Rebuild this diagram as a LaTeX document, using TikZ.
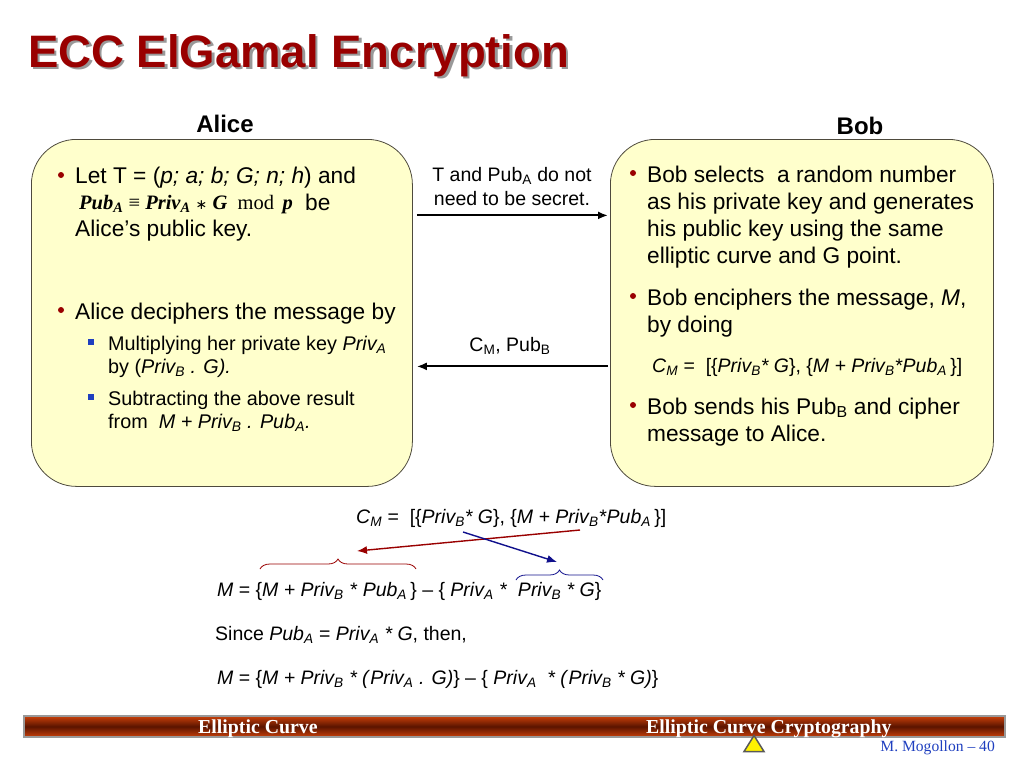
\documentclass[tikz,border=0pt]{standalone}
\usepackage{fontspec}
\setmainfont{Liberation Sans}
\newfontfamily\timesfont{Liberation Serif}
\newfontfamily\symbfont{DejaVu Sans}
\usetikzlibrary{arrows.meta,shapes.geometric,decorations.pathreplacing}
\definecolor{titlered}{HTML}{990000}
\definecolor{boxyellow}{HTML}{FFFFCC}
\definecolor{barorange}{HTML}{C8400A}
\definecolor{bardark}{HTML}{5A1400}
\definecolor{subblue}{HTML}{1F3FBF}
\definecolor{arrowblue}{HTML}{10108C}
\newcommand{\low}[1]{\textsubscript{#1}}
\newcommand{\pr}[1]{\textit{Priv\low{#1}}}
\newcommand{\pu}[1]{\textit{Pub\low{#1}}}

\begin{document}
\begin{tikzpicture}[x=1pt,y=-1pt,>={Latex[length=10pt,width=8pt]}]
  \tikzstyle{bigline}=[anchor=base west,inner sep=0pt,font=\fontsize{22.7}{26}\selectfont]
  \tikzstyle{smallline}=[anchor=base west,inner sep=0pt,font=\fontsize{19.8}{22}\selectfont]
  \tikzstyle{eqline}=[anchor=base west,inner sep=0pt,font=\fontsize{19.5}{22}\selectfont]
  \tikzstyle{partybox}=[draw=black!80!yellow,fill=boxyellow,rounded corners=45pt,anchor=north west,line width=0.8pt,inner sep=0pt]
  \tikzstyle{redbullet}=[circle,fill=titlered,inner sep=0pt,minimum size=6pt]
  \tikzstyle{bluebullet}=[rectangle,fill=subblue,inner sep=0pt,minimum size=6pt]
  \tikzstyle{footertext}=[inner sep=0pt,anchor=base west,text=white,font=\timesfont\bfseries\fontsize{19.8}{22}\selectfont]
  \tikzstyle{linkarrow}=[->,line width=2pt]
  \useasboundingbox (0,0) rectangle (1024,768);

  % title and headings
  \node[inner sep=0pt,anchor=base west,text=black!40,font=\bfseries\fontsize{45.5}{50}\selectfont] (titleshadow) at (30.5,69.5) {ECC ElGamal Encryption};
  \node[inner sep=0pt,anchor=base west,text=titlered,font=\bfseries\fontsize{45.5}{50}\selectfont] (title) at (28,67) {ECC ElGamal Encryption};
  \node[font=\bfseries\fontsize{24}{28}\selectfont] (alicehead) at (225,124) {Alice};
  \node[font=\bfseries\fontsize{24}{28}\selectfont] (bobhead) at (860,126) {Bob};

  \node[partybox,minimum width=381pt,minimum height=347pt] (alice) at (31,139) {};
  \node[partybox,minimum width=383pt,minimum height=347pt] (bob) at (610,139) {};

  % Alice
  \node[redbullet] (a1) at (61,175) {};
  \node[bigline] (a2) at (75,183) {Let T = (\textit{p; a; b; G; n; h}) and};
  \node[anchor=base west,inner sep=0pt,font=\timesfont\fontsize{20.5}{24}\selectfont] (a3) at (79,209)
    {\textbf{\textit{Pub\low{A}}} ≡ \textbf{\textit{Priv\low{A}}} {\symbfont\fontsize{14}{15}\selectfont ∗} \textbf{\textit{G}}\ \ mod\, \textbf{\textit{p}}};
  \node[bigline] (a4) at (305,210) {be};
  \node[bigline] (a5) at (75,236) {Alice’s public key.};
  \node[redbullet] (a6) at (61,310) {};
  \node[bigline] (a7) at (75,319) {Alice deciphers the message by};
  \node[bluebullet] (a8) at (91,342) {};
  \node[smallline] (a9) at (108,350) {Multiplying her private key \pr{A}};
  \node[smallline] (a10) at (108,373) {by (\pr{B} \textit{. G).}};
  \node[bluebullet] (a11) at (91,397) {};
  \node[smallline] (a12) at (108,405) {Subtracting the above result};
  \node[smallline] (a13) at (108,428) {from\ \ \textit{M + }\pr{B} \textit{. }\pu{A}\textit{.}};

  % Bob
  \node[redbullet] (b1) at (633,173) {};
  \node[bigline] (b2) at (647,182) {Bob selects\ \ a random number};
  \node[bigline] (b3) at (647,209) {as his private key and generates};
  \node[bigline] (b4) at (647,236) {his public key using the same};
  \node[bigline] (b5) at (647,263) {elliptic curve and G point.};
  \node[redbullet] (b6) at (633,296) {};
  \node[bigline] (b7) at (647,305) {Bob enciphers the message, \textit{M},};
  \node[bigline] (b8) at (647,332) {by doing};
  \node[eqline] (b9) at (652,372) {\textit{C\low{M}} =\ \ [\{\pr{B}\textit{* G}\}, \{\textit{M + }\pr{B}\textit{*}\pu{A}\,\}]};
  \node[redbullet] (b10) at (633,405) {};
  \node[bigline] (b11) at (647,414) {Bob sends his Pub\low{B} and cipher};
  \node[bigline] (b12) at (647,441) {message to Alice.};

  % between the boxes
  \node[eqline,anchor=base] (m1) at (512,181) {T and Pub\low{A} do not};
  \node[eqline,anchor=base] (m2) at (512,205) {need to be secret.};
  \node[eqline,anchor=base] (m3) at (510,351) {C\low{M}, Pub\low{B}};
  \draw[linkarrow,shorten <=4pt,shorten >=2pt] ([yshift=97.5pt]alice.east) -- ([yshift=97.5pt]bob.west);
  \draw[linkarrow,shorten <=2pt,shorten >=4pt] ([yshift=-53.5pt]bob.west) -- ([yshift=-53.5pt]alice.east);

  % equations
  \node[eqline] (e1) at (356,523) {\textit{C\low{M}} =\ \ [\{\pr{B}\textit{* G}\}, \{\textit{M + }\pr{B}\textit{*}\pu{A}\,\}]};
  \node[eqline] (e2) at (217,596) {\textit{M} = \{\textit{M + }\pr{B} \textit{* }\pu{A}\,\} – \{ \pr{A} \textit{*}\ \ \pr{B} \textit{* G}\}};
  \node[eqline] (e3) at (215,640) {Since \pu{A} = \pr{A} \textit{* G}, then,};
  \node[eqline] (e4) at (217,684) {\textit{M} = \{\textit{M + }\pr{B} \textit{* (}\pr{A} \textit{. G)}\} – \{ \pr{A}\ \ \textit{* (}\pr{B} \textit{* G)}\}};

  \coordinate (redstart) at (580,530);
  \coordinate (redend) at (357,551);
  \coordinate (bluestart) at (463,532);
  \coordinate (blueend) at (557,562);
  \coordinate (redleft) at (260,569);
  \coordinate (redright) at (416,569);
  \coordinate (blueleft) at (516,580);
  \coordinate (blueright) at (603,580);
  \draw[->,titlered,line width=1.4pt] (redstart) -- (redend);
  \draw[->,arrowblue,line width=1.4pt] (bluestart) -- (blueend);
  \draw[titlered,line width=0.8pt,decorate,decoration={brace,amplitude=10pt}] (redleft) -- (redright);
  \draw[arrowblue,line width=0.8pt,decorate,decoration={brace,amplitude=10pt}] (blueleft) -- (blueright);

  % footer
  \shade[top color=barorange,bottom color=barorange,middle color=bardark] (24,716) rectangle (1005,737);
  \node[draw=black!40,line width=1.5pt,minimum width=981pt,minimum height=21pt,inner sep=0pt] (bar) at (514.5,726.5) {};
  \node[footertext] (f1) at (198,733) {Elliptic Curve};
  \node[footertext] (f2) at (646,733) {Elliptic Curve Cryptography};
  \node[isosceles triangle,isosceles triangle stretches,shape border rotate=90,draw=black!65,fill=yellow,line width=1.5pt,inner sep=0pt,minimum height=16pt,minimum width=20pt] (navmark) at (754,746) {};
  \node[inner sep=0pt,anchor=base east,text=subblue,font=\timesfont\fontsize{15.6}{18}\selectfont] (f3) at (995,751) {M. Mogollon – 40};
\end{tikzpicture}
\end{document}
